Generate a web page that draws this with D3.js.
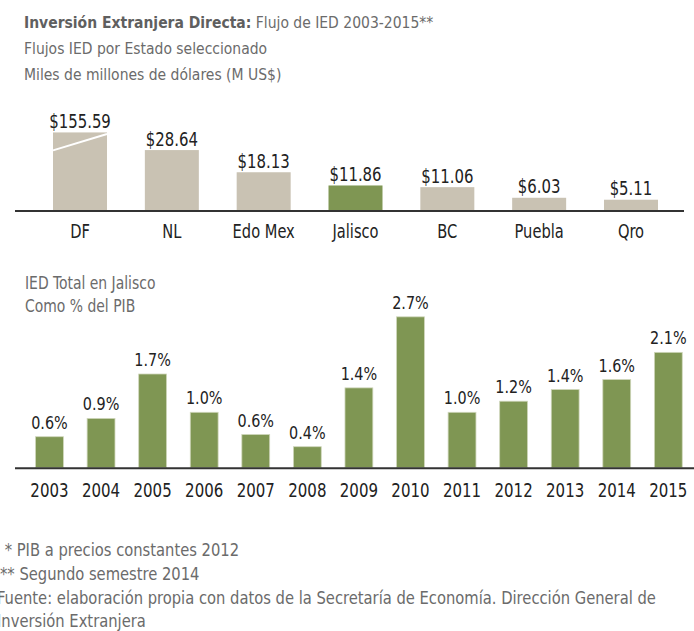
<!DOCTYPE html>
<html>
<head>
<meta charset="utf-8">
<script src="https://cdn.jsdelivr.net/npm/d3@7/dist/d3.min.js"></script>
<style>
  html, body { margin: 0; padding: 0; background: #fff; }
  svg { display: block; }
</style>
</head>
<body>
<div id="chart"></div>
<script>
// Flujos de IED por estado (M US$) y IED de Jalisco como % del PIB

const states = ['DF', 'NL', 'Edo Mex', 'Jalisco', 'BC', 'Puebla', 'Qro'];
const stateValues = [155.59, 28.64, 18.13, 11.86, 11.06, 6.03, 5.11];
const highlightState = 'Jalisco';
// DF bar is drawn broken (truncated) at this value
const DF_CAP = 37;

const years = ['2003', '2004', '2005', '2006', '2007', '2008', '2009',
               '2010', '2011', '2012', '2013', '2014', '2015'];
const pibShare = [0.56, 0.89, 1.69, 1.00, 0.60, 0.38, 1.44,
                  2.72, 1.00, 1.20, 1.41, 1.59, 2.08];

const titleLines = ['Flujos IED por Estado seleccionado', 'Miles de millones de dólares (M US$)'];
const subTitleLines = ['IED Total en Jalisco', 'Como % del PIB'];
const footnotes = [
  ' * PIB a precios constantes 2012',
  '** Segundo semestre 2014',
  'Fuente: elaboración propia con datos de la Secretaría de Economía. Dirección General de',
  'Inversión Extranjera'
];

const W = 694, H = 631;
const FONT = '"DejaVu Sans Condensed", "Liberation Sans Narrow", sans-serif';
const BEIGE = '#c9c2b3';
const GREEN = '#7f9653';
const GREY_TXT = '#6b6b6b';
const DARK_TXT = '#222';

const svg = d3.select('#chart').append('svg')
  .attr('width', W).attr('height', H)
  .attr('font-family', FONT);

// the source uses a tall condensed face; stretch the condensed DejaVu a bit vertically
function stretch(sel, k) {
  sel.each(function () {
    const t = d3.select(this);
    const x = +t.attr('x') || 0, y = +t.attr('y') || 0;
    t.attr('x', 0).attr('y', 0)
      .attr('transform', `translate(${x},${y}) scale(1,${k})`);
  });
}

// ---- titles ----
const t1 = svg.append('text').attr('x', 24).attr('y', 27.5)
  .attr('font-size', 15.5).attr('fill', GREY_TXT);
t1.append('tspan').attr('font-weight', 700).attr('fill', '#5f5f5f').text('Inversión Extranjera Directa:');
t1.append('tspan').text(' Flujo de IED 2003-2015**');
stretch(t1, 1.06);

svg.selectAll('text.sub1').data(titleLines).join('text')
  .attr('class', 'sub1')
  .attr('x', 24).attr('y', (d, i) => 54 + i * 26)
  .attr('font-size', 15.5).attr('fill', GREY_TXT)
  .text(d => d)
  .call(stretch, 1.06);

// ---- top chart: flows by state ----
const top0 = 210.5;
const xTop = d3.scaleBand().domain(states).range([34.1, 676.9])
  .paddingInner(0.412).paddingOuter(0.206);
const yTop = d3.scaleLinear().domain([0, DF_CAP]).range([top0, top0 - DF_CAP * 2.11]);

const topData = states.map((s, i) => ({ s, v: stateValues[i] }));

svg.append('g').selectAll('rect').data(topData).join('rect')
  .attr('x', d => xTop(d.s))
  .attr('width', xTop.bandwidth())
  .attr('y', d => yTop(Math.min(d.v, DF_CAP)))
  .attr('height', d => top0 - yTop(Math.min(d.v, DF_CAP)))
  .attr('fill', d => d.s === highlightState ? GREEN : BEIGE);

// break mark across the truncated bar
topData.filter(d => d.v > DF_CAP).forEach(d => {
  svg.append('line')
    .attr('x1', xTop(d.s)).attr('y1', yTop(DF_CAP * 0.77))
    .attr('x2', xTop(d.s) + xTop.bandwidth()).attr('y2', yTop(DF_CAP * 0.98))
    .attr('stroke', '#fff').attr('stroke-width', 2);
});

svg.append('g').selectAll('text').data(topData).join('text')
  .attr('x', d => xTop(d.s) + xTop.bandwidth() / 2)
  .attr('y', d => yTop(Math.min(d.v, DF_CAP)) - 4.5)
  .attr('text-anchor', 'middle')
  .attr('font-size', 16.6).attr('fill', DARK_TXT)
  .text(d => '$' + d.v.toFixed(2))
  .call(stretch, 1.15);

const axTop = svg.append('g').attr('transform', `translate(0,${top0})`)
  .call(d3.axisBottom(xTop).tickSize(0));
axTop.select('.domain').attr('d', 'M15,0.5H684').attr('stroke', '#333').attr('stroke-width', 2);
axTop.selectAll('text').attr('font-family', FONT).attr('font-size', 16.3).attr('fill', DARK_TXT)
  .attr('dy', 0).attr('y', 27.5)
  .call(stretch, 1.15);

// ---- second titles ----
svg.selectAll('text.sub2').data(subTitleLines).join('text')
  .attr('class', 'sub2')
  .attr('x', 25).attr('y', (d, i) => 289 + i * 22.5)
  .attr('font-size', 15.5).attr('fill', GREY_TXT)
  .text(d => d)
  .call(stretch, 1.1);

// ---- bottom chart: Jalisco FDI as % of GDP ----
const bot0 = 467.8;
const xBot = d3.scaleBand().domain(years).range([23.7, 694.1])
  .paddingInner(0.46).paddingOuter(0.23);
const yBot = d3.scaleLinear().domain([0, 1]).range([bot0, bot0 - 55.5]);

const botData = years.map((y, i) => ({ y, v: pibShare[i] }));

svg.append('g').selectAll('rect').data(botData).join('rect')
  .attr('x', d => xBot(d.y))
  .attr('width', xBot.bandwidth())
  .attr('y', d => yBot(d.v))
  .attr('height', d => bot0 - yBot(d.v))
  .attr('fill', GREEN)
  .attr('stroke', '#cfd6bb').attr('stroke-width', 0.8);

svg.append('g').selectAll('text').data(botData).join('text')
  .attr('x', d => xBot(d.y) + xBot.bandwidth() / 2)
  .attr('y', d => yBot(d.v) - 8)
  .attr('text-anchor', 'middle')
  .attr('font-size', 16).attr('fill', DARK_TXT)
  .text(d => d.v.toFixed(1) + '%')
  .call(stretch, 1.15);

const axBot = svg.append('g').attr('transform', `translate(0,${bot0})`)
  .call(d3.axisBottom(xBot).tickSize(0));
axBot.select('.domain').attr('d', 'M15,0.5H694').attr('stroke', '#333').attr('stroke-width', 2);
axBot.selectAll('text').attr('font-family', FONT).attr('font-size', 16.7).attr('fill', DARK_TXT)
  .attr('dy', 0).attr('y', 29)
  .call(stretch, 1.2);

// ---- footnotes ----
svg.selectAll('text.foot').data(footnotes).join('text')
  .attr('class', 'foot')
  .attr('x', (d, i) => i < 2 ? 0 : -3).attr('y', (d, i) => 556 + i * 23.8)
  .attr('font-size', 16.4).attr('fill', GREY_TXT)
  .attr('xml:space', 'preserve')
  .text(d => d)
  .call(stretch, 1.08);
</script>
</body>
</html>
